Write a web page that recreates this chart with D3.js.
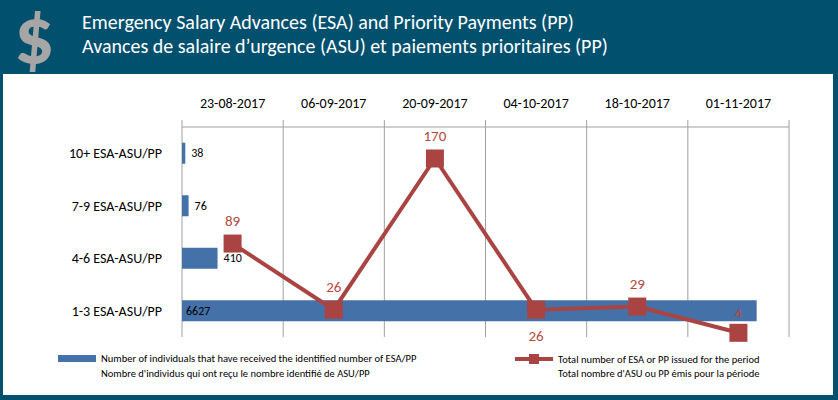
<!DOCTYPE html><html><head><meta charset="utf-8"><script src="https://cdn.jsdelivr.net/npm/d3@7"></script>
<style>body{margin:0;background:#fff}text{font-family:Calibri,Carlito,"Open Sans",sans-serif}</style></head><body>
<svg id="c" width="838" height="400"></svg>
<script>
const categories=["10+ ESA-ASU/PP","7-9 ESA-ASU/PP","4-6 ESA-ASU/PP","1-3 ESA-ASU/PP"];
const barValues=[38,76,410,6627];
const dates=["23-08-2017","06-09-2017","20-09-2017","04-10-2017","18-10-2017","01-11-2017"];
const lineValues=[89,26,170,26,29,4];
const svg=d3.select("#c");
svg.append("rect").attr("width",838).attr("height",400).attr("fill","#01506e");
svg.append("rect").attr("x",3).attr("y",74).attr("width",830).attr("height",321).attr("fill","#fff");
svg.append("text").attr("x",14).attr("y",64).attr("font-size",80).attr("font-weight","bold").attr("fill","#a6a6a6").attr("font-family","Liberation Sans Narrow,Liberation Sans,sans-serif").text("$");
svg.append("text").attr("x",82).attr("y",29).attr("font-size",20).attr("fill","#fff").text("Emergency Salary Advances (ESA) and Priority Payments (PP)");
svg.append("text").attr("x",82).attr("y",53).attr("font-size",20).attr("fill","#fff").text("Avances de salaire d’urgence (ASU) et paiements prioritaires (PP)");
const y=d3.scaleBand().domain(categories).range([127,337]).paddingInner(0.6).paddingOuter(0.3);
const x=d3.scaleLinear().domain([0,7000]).range([182,789]);
const xb=d3.scaleBand().domain(dates).range([182,789]);
const yl=d3.scaleLinear().domain([0,200]).range([337,127]);
const g=svg.append("g");
dates.forEach(d=>{g.append("line").attr("x1",xb(d)+xb.bandwidth()).attr("x2",xb(d)+xb.bandwidth()).attr("y1",120).attr("y2",337).attr("stroke","#a0a0a0");});
g.append("line").attr("x1",182).attr("x2",789).attr("y1",127).attr("y2",127).attr("stroke","#a0a0a0");
g.append("line").attr("x1",182).attr("x2",182).attr("y1",120).attr("y2",337).attr("stroke","#a0a0a0");
dates.forEach(d=>g.append("text").attr("x",xb(d)+xb.bandwidth()/2).attr("y",108).attr("text-anchor","middle").attr("font-size",14).attr("fill","#000").text(d));
g.selectAll(".b").data(categories).enter().append("rect").attr("x",x(0)).attr("y",d=>y(d)).attr("height",y.bandwidth()).attr("width",(d,i)=>x(barValues[i])-x(0)).attr("fill","#4472a8");
categories.forEach((c,i)=>{
 g.append("text").attr("x",162).attr("y",y(c)+y.bandwidth()/2+5).attr("text-anchor","end").attr("font-size",14).text(c);
 g.append("text").attr("x",i==3?x(0)+4:x(barValues[i])+6).attr("y",y(c)+y.bandwidth()/2+4).attr("font-size",12).text(barValues[i]);
});
const line=d3.line().x((v,i)=>xb(dates[i])+xb.bandwidth()/2).y(v=>yl(v));
g.append("path").attr("d",line(lineValues)).attr("fill","none").attr("stroke","#a94442").attr("stroke-width",4);
lineValues.forEach((v,i)=>{
 const cx=xb(dates[i])+xb.bandwidth()/2,cy=yl(v);
 g.append("rect").attr("x",cx-9).attr("y",cy-9).attr("width",18).attr("height",18).attr("fill","#a94442");
 const below=(i==3);
 g.append("text").attr("x",cx).attr("y",i==5?cy-15:below?cy+31:cy-18).attr("text-anchor","middle").attr("font-size",15).attr("fill","#b5483f").text(v);
});
svg.append("rect").attr("x",58).attr("y",355).attr("width",38).attr("height",7).attr("fill","#4472a8");
svg.append("text").attr("x",101).attr("y",362).attr("font-size",10.5).text("Number of individuals that have received the identified number of ESA/PP");
svg.append("text").attr("x",101).attr("y",377).attr("font-size",10.5).text("Nombre d'individus qui ont reçu le nombre identifié de ASU/PP");
svg.append("line").attr("x1",515).attr("x2",553).attr("y1",359).attr("y2",359).attr("stroke","#a94442").attr("stroke-width",4);
svg.append("rect").attr("x",529).attr("y",354).attr("width",10).attr("height",10).attr("fill","#a94442");
svg.append("text").attr("x",558).attr("y",363).attr("font-size",10.5).text("Total number of ESA or PP issued for the period");
svg.append("text").attr("x",558).attr("y",377).attr("font-size",10.5).text("Total nombre d'ASU  ou PP émis pour la période");
</script></body></html>
